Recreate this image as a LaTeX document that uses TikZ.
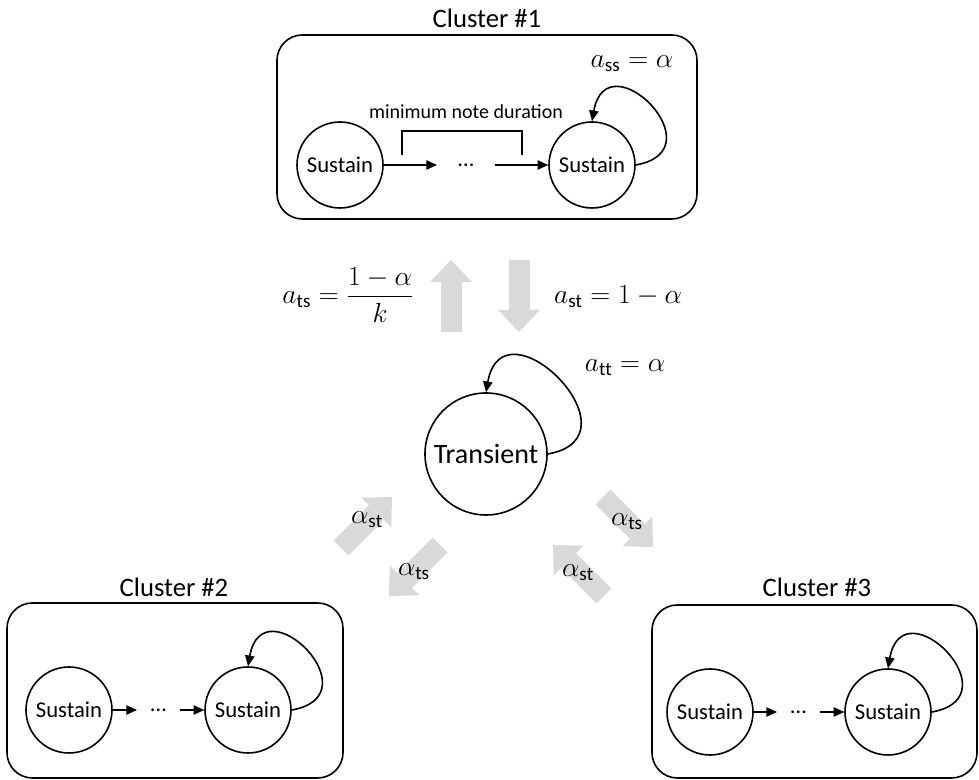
\documentclass[tikz,border=0pt]{standalone}
\usepackage{amsmath,amssymb}
\usepackage{fontspec}
\setmainfont{Carlito}
\usepackage{tikz}
\usetikzlibrary{positioning,calc,arrows.meta}
\definecolor{arrowgray}{HTML}{D9D9D9}

\begin{document}
\begin{tikzpicture}[
    x=0.75pt, y=0.75pt,
    cluster/.style={rectangle, draw, line width=1.2pt, rounded corners=19pt, inner sep=0pt},
    title/.style={font=\fontsize{20}{24}\selectfont},
    state/.style={circle, draw, line width=1.2pt, minimum size=64.5pt, inner sep=0pt, font=\fontsize{17}{20}\selectfont},
    bigstate/.style={circle, draw, line width=1.2pt, minimum size=91.5pt, inner sep=0pt, font=\fontsize{21}{25}\selectfont},
    dots/.style={inner sep=0pt, outer sep=0pt, minimum height=2pt, font=\fontsize{17}{20}\selectfont},
    arrow/.style={-{Triangle[length=8pt, width=7pt]}, line width=1.2pt},
    fatarrow/.style={draw=arrowgray, line width=15.75pt, -{Triangle[length=16.5pt, width=31.5pt, line width=0pt]}},
    lbl/.style={font=\fontsize{20.5}{24}\selectfont}
]
\useasboundingbox (0,0) rectangle (979,780);

% cluster #1
\node[cluster, minimum width=315pt, minimum height=138pt] (box1) at (487,653) {};
\node[title] (title1) at (487,762) {Cluster \#1};
\node[state] (s1a) at (340,615) {Sustain};
\node[state] (s1b) at (592,615) {Sustain};
\node[dots, minimum width=43.5pt] (dots1) at (466,615) {\ldots};
\node[font=\fontsize{15}{18}\selectfont] (mindur) at (466,668) {minimum note duration};
\node[lbl] (lss) at (632,716) {$a_{\mathrm{ss}} = \alpha$};

\draw[arrow] (s1a) -- (dots1);
\draw[arrow] (dots1) -- (s1b);
\draw[line width=0.8pt] (402,625) -- (402,649) -- (522,649) -- (522,625);
\draw[arrow] (s1b.east) .. controls +(10:85) and +(80:85) .. (s1b.north);

% transient
\node[bigstate] (trans) at (486,326) {Transient};
\node[lbl] (ltt) at (625,412) {$a_{\mathrm{tt}} = \alpha$};
\draw[arrow] (trans.east) .. controls +(10:98) and +(80:98) .. (trans.north);

% cluster #2
\node[cluster, minimum width=252pt, minimum height=131.25pt] (box2) at (175,89.5) {};
\node[title] (title2) at (174,193) {Cluster \#2};
\node[state] (s2a) at (69,70) {Sustain};
\node[state] (s2b) at (248,70) {Sustain};
\node[dots, minimum width=32.25pt] (dots2) at (158.5,70) {\ldots};
\draw[arrow] (s2a) -- (dots2);
\draw[arrow] (dots2) -- (s2b);
\draw[arrow] (s2b.east) .. controls +(10:85) and +(80:85) .. (s2b.north);

% cluster #3
\node[cluster, minimum width=243.75pt, minimum height=129.75pt] (box3) at (814.5,88.5) {};
\node[title] (title3) at (817,193) {Cluster \#3};
\node[state] (s3a) at (710,68) {Sustain};
\node[state] (s3b) at (888,68) {Sustain};
\node[dots, minimum width=32.25pt] (dots3) at (798.5,68) {\ldots};
\draw[arrow] (s3a) -- (dots3);
\draw[arrow] (dots3) -- (s3b);
\draw[arrow] (s3b.east) .. controls +(10:85) and +(80:85) .. (s3b.north);

% transitions between clusters
\coordinate (up0) at (451,448);  \coordinate (up1) at (451,520);
\coordinate (dn0) at (519,520);  \coordinate (dn1) at (519,448);
\coordinate (a1) at (341,232);   \coordinate (b1) at (392,283);
\coordinate (a2) at (440,235);   \coordinate (b2) at (389,184);
\coordinate (a3) at (603,283);   \coordinate (b3) at (653,233);
\coordinate (a4) at (604,184);   \coordinate (b4) at (553,235);

\draw[fatarrow] (up0) -- (up1);
\draw[fatarrow] (dn0) -- (dn1);
\draw[fatarrow] (a1) -- (b1);
\draw[fatarrow] (a2) -- (b2);
\draw[fatarrow] (a3) -- (b3);
\draw[fatarrow] (a4) -- (b4);

\node[lbl] (lts) at (348,485) {$a_{\mathrm{ts}} = \dfrac{1-\alpha}{k}$};
\node[lbl] (lst) at (618,483) {$a_{\mathrm{st}} = 1-\alpha$};
\node[lbl] (l1) at (367,260) {$\alpha_{\mathrm{st}}$};
\node[lbl] (l2) at (414,208) {$\alpha_{\mathrm{ts}}$};
\node[lbl] (l3) at (627,258) {$\alpha_{\mathrm{ts}}$};
\node[lbl] (l4) at (578,207) {$\alpha_{\mathrm{st}}$};

\end{tikzpicture}
\end{document}
